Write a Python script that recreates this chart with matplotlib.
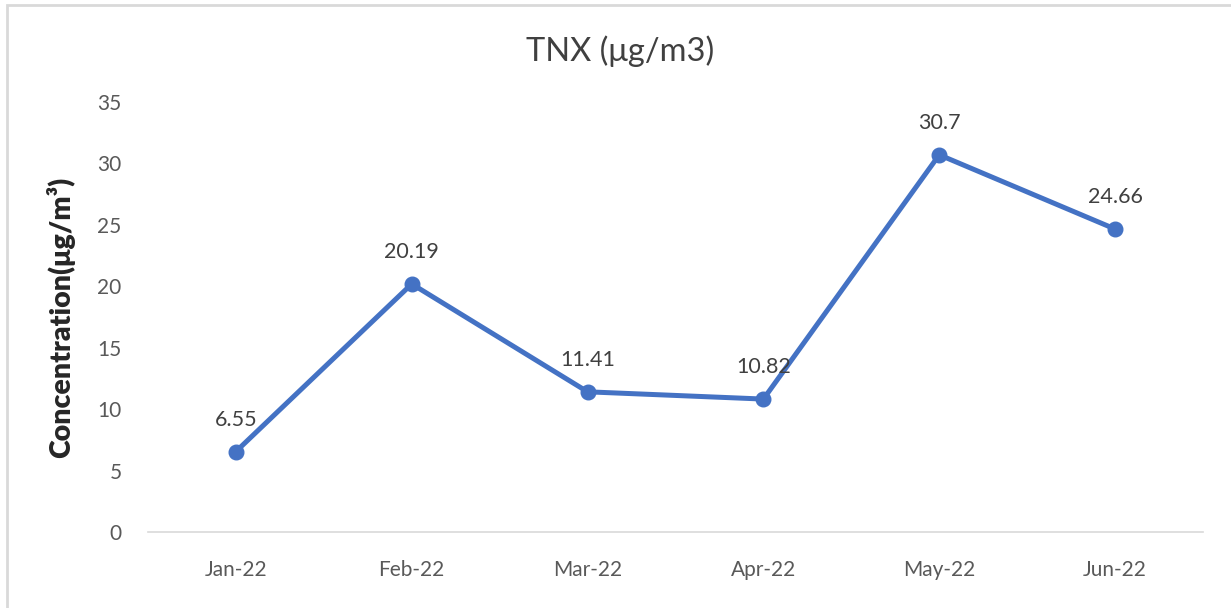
import matplotlib
matplotlib.use("Agg")
import matplotlib.pyplot as plt
from matplotlib.patches import Rectangle

months = ["Jan-22", "Feb-22", "Mar-22", "Apr-22", "May-22", "Jun-22"]
values = [6.55, 20.19, 11.41, 10.82, 30.7, 24.66]
labels = ["6.55", "20.19", "11.41", "10.82", "30.7", "24.66"]
yticks = [0, 5, 10, 15, 20, 25, 30, 35]

plt.rcParams['font.family'] = ['Lato', 'DejaVu Sans']

fig = plt.figure(figsize=(12.31, 6.08), dpi=100)
fig.patch.set_facecolor('white')
# chart frame
fig.add_artist(Rectangle((7/1231, -0.1), 1.2, 1 - 5/608 + 0.1, transform=fig.transFigure,
                         fill=False, edgecolor='#d9d9d9', linewidth=2))

ax = fig.add_axes([148/1231, 1 - 532/608, (1203 - 148)/1231, (532 - 102)/608])
x = list(range(len(months)))
ax.plot(x, values, color='#4472C4', linewidth=3.6, marker='o', markersize=10.5, zorder=3)
for xi, v, t in zip(x, values, labels):
    ax.annotate(t, (xi, v), xytext=(0, 23), textcoords='offset points',
                ha='center', va='center', fontsize=15.5, color='#404040')

ax.set_xlim(-0.5, len(months) - 0.5)
ax.set_ylim(0, 35)
ax.set_yticks(yticks)
ax.set_xticks(x)
ax.set_xticklabels(months)
for s in ['top', 'right', 'left']:
    ax.spines[s].set_visible(False)
ax.spines['bottom'].set_color('#d9d9d9')
ax.spines['bottom'].set_linewidth(1.2)
ax.tick_params(axis='both', length=0, labelsize=15, colors='#595959')
ax.tick_params(axis='y', pad=19)
ax.tick_params(axis='x', pad=20)
ax.set_ylabel("Concentration(μg/m³)", fontsize=20.5, fontweight='heavy', color='#262626', labelpad=16)
fig.text(620/1231, 1 - 51/608, "TNX (μg/m3)", ha='center', va='center', fontsize=23.5, color='#404040')

fig.savefig("out.png", dpi=100, facecolor='white')
